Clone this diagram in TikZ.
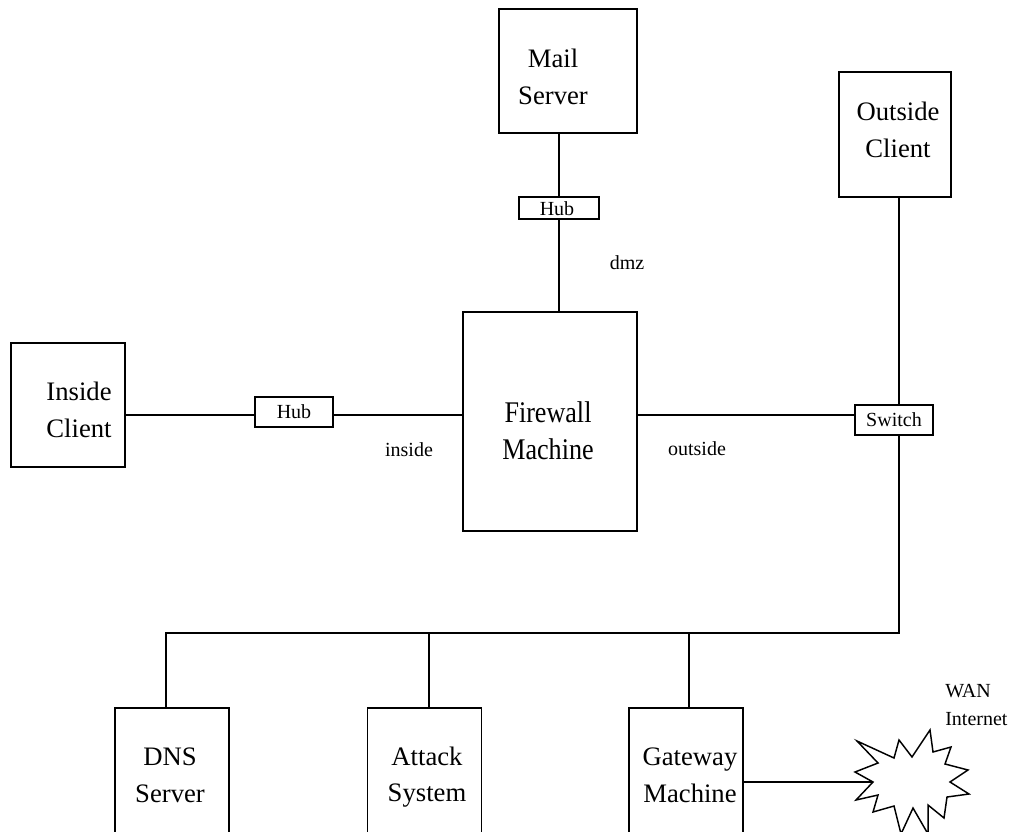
\documentclass[tikz,border=0pt]{standalone}
\usepackage{fontspec}
\setmainfont{Liberation Serif}
\newfontfamily\condfont{Liberation Serif}[FakeStretch=0.87]
\begin{document}
\begin{tikzpicture}[x=0.75pt,y=-0.75pt,
  box/.style={draw,line width=1.1pt,rectangle,inner sep=0pt,outer sep=0pt},
  big/.style={font=\fontsize{20}{27.5}\selectfont,align=center,inner sep=0pt},
  small/.style={font=\fontsize{15}{18}\selectfont,inner sep=0pt},
  wire/.style={line width=1.1pt}]
\useasboundingbox (0,0) rectangle (1012,831);
\clip (0,0) rectangle (1012,831);
\fill[white] (0,0) rectangle (1012,831);

% boxes
\node[box,minimum width=103.5pt,minimum height=93pt] (mail) at (568,71) {};
\node[box,minimum width=60pt,minimum height=16.5pt] (hub1) at (559,208) {};
\node[box,minimum width=130.5pt,minimum height=164.25pt] (fw) at (550,421.5) {};
\node[box,minimum width=85.5pt,minimum height=93pt] (ic) at (68,405) {};
\node[box,minimum width=58.5pt,minimum height=22.5pt] (hub2) at (294,412) {};
\node[box,minimum width=58.5pt,minimum height=22.5pt] (sw) at (894,420) {};
\node[box,minimum width=84pt,minimum height=93.75pt] (oc) at (895,134.5) {};
\node[box,minimum width=85.5pt,minimum height=150pt] (dns) at (172,808) {};
\node[box,minimum width=85.5pt,minimum height=150pt] (att) at (424.5,808) {};
\node[box,minimum width=85.5pt,minimum height=150pt] (gw) at (686,808) {};

% labels inside boxes
\node[big] (mailt) at (553,77) {Mail\\Server};
\node[small] (hub1t) at (557,208.5) {Hub};
\node[big,font=\condfont\fontsize{22.5}{27.75}\selectfont] (fwt) at (548,431) {Firewall\\Machine};
\node[big] (ict) at (79,410) {Inside\\Client};
\node[small] (hub2t) at (294,412) {Hub};
\node[small] (swt) at (894,420) {Switch};
\node[big] (oct) at (898,130) {Outside\\Client};
\node[big] (dnst) at (170,775) {DNS\\Server};
\node[big] (attt) at (427,777) {Attack\\System};
\node[big] (gwt) at (690,775) {Gateway\\Machine};

% free labels
\node[small] (dmz) at (627,263) {dmz};
\node[small] (inside) at (409,450) {inside};
\node[small] (outside) at (697,449) {outside};
\node[small,anchor=base west] (wanl) at (945,697) {WAN};
\node[small,anchor=base west] (inetl) at (945,725) {Internet};

% coordinates
\coordinate (yl) at (0,415);
\coordinate (xs) at (899,0);
\coordinate (busR) at (899,633);
\coordinate (busL) at (166,633);
\coordinate (busA) at (429,633);
\coordinate (busG) at (689,633);
\coordinate (wan) at (873,782);

% connectors
\draw[wire] (mail.south -| hub1) -- (hub1.north);
\draw[wire] (hub1.south) -- (hub1.south |- fw.north);
\draw[wire] (ic.east |- yl) -- (hub2.west |- yl);
\draw[wire] (hub2.east |- yl) -- (fw.west |- yl);
\draw[wire] (fw.east |- yl) -- (sw.west |- yl);
\draw[wire] (oc.south -| xs) -- (sw.north -| xs);
\draw[wire] (sw.south -| xs) -- (busR) -- (busL) -- (dns.north -| busL);
\draw[wire] (busA) -- (att.north -| busA);
\draw[wire] (busG) -- (gw.north -| busG);
\draw[wire] (gw.east |- wan) -- (wan);

% WAN burst
\draw[wire,line join=miter,fill=white] (wan)
  -- (855,772) -- (878,763) -- (857,741) -- (894,758) -- (899,740)
  -- (912,757) -- (930,730) -- (933,752) -- (951,747) -- (945,764)
  -- (968,770) -- (950,782) -- (969,794) -- (947,797) -- (944,818)
  -- (928,805) -- (928,834) -- (913,808) -- (901,834) -- (894,806)
  -- (873,812) -- (878,795) -- (856,800) -- cycle;
\end{tikzpicture}
\end{document}
